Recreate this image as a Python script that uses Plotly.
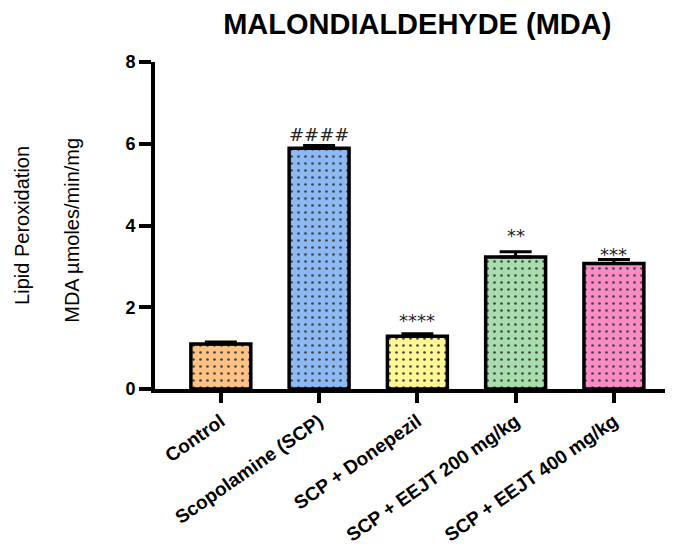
import plotly.graph_objects as go

# Lipid peroxidation (MDA) per treatment group, mean and SEM
groups = ["Control", "Scopolamine (SCP)", "SCP + Donepezil",
          "SCP + EEJT 200 mg/kg", "SCP + EEJT 400 mg/kg"]
mda_mean = [1.10, 5.89, 1.29, 3.23, 3.07]
mda_sem = [0.05, 0.07, 0.06, 0.13, 0.10]
signif = ["", "####", "****", "**", "***"]
bar_colors = ["#FFC285", "#8CB8F4", "#FFF796", "#A8DDAE", "#F98CC4"]
# pixel lift of each significance mark above its error bar
mark_lift = [0, -2, 1, 4, -8]

x_idx = list(range(len(groups)))

fig = go.Figure()
fig.add_trace(go.Bar(
    x=x_idx, y=mda_mean, width=0.61,
    marker=dict(
        color=bar_colors,
        line=dict(color="black", width=3.5),
        pattern=dict(shape=".", size=7, solidity=0.12, fgcolor="#1a1a1a",
                     fgopacity=1),
    ),
    error_y=dict(type="data", symmetric=False, array=mda_sem,
                 arrayminus=[0] * len(mda_sem), color="black",
                 thickness=3, width=16),
    showlegend=False,
))

for i, (m, s, lab) in enumerate(zip(mda_mean, mda_sem, signif)):
    if not lab:
        continue
    fig.add_annotation(x=i, y=m + s, text=lab, showarrow=False,
                       yanchor="bottom", yshift=mark_lift[i],
                       font=dict(family="DejaVu Sans", size=18, color="#222222"))

# two-line y-axis title
fig.add_annotation(text="Lipid Peroxidation", xref="paper", yref="paper",
                   x=-0.262, y=0.5, textangle=-90, showarrow=False,
                   xanchor="center", yanchor="middle",
                   font=dict(family="Liberation Sans, Arial", size=20,
                             color="black"))
fig.add_annotation(text="MDA µmoles/min/mg", xref="paper", yref="paper",
                   x=-0.162, y=0.485, textangle=-90, showarrow=False,
                   xanchor="center", yanchor="middle",
                   font=dict(family="Liberation Sans, Arial", size=20,
                             color="black"))

fig.update_layout(
    width=673, height=548,
    margin=dict(l=155, r=8, t=62, b=159),
    paper_bgcolor="white", plot_bgcolor="white",
    title=dict(text="<b>MALONDIALDEHYDE (MDA)</b>", x=0.62, xanchor="center",
               y=0.956, yanchor="middle",
               font=dict(family="Liberation Sans, Arial", size=29, color="black")),
    bargap=0.3,
)
fig.update_xaxes(
    range=[-0.67, 4.52], tickmode="array", tickvals=x_idx, ticktext=groups,
    tickangle=-35, showline=True, linecolor="black", linewidth=4,
    ticks="outside", ticklen=10, tickwidth=3.5, tickcolor="black",
    showgrid=False, zeroline=False, automargin=False,
    tickfont=dict(family="Liberation Sans, Arial", size=19, color="black",
                  weight="bold"),
)
fig.update_yaxes(
    range=[0, 8], tickvals=[0, 2, 4, 6, 8],
    showline=True, linecolor="black", linewidth=4,
    ticks="outside", ticklen=12, tickwidth=3.5, tickcolor="black",
    showgrid=False, zeroline=False, automargin=False,
    tickfont=dict(family="Liberation Sans, Arial", size=18, color="black",
                  weight="bold"),
)

fig.write_html("out.html")
